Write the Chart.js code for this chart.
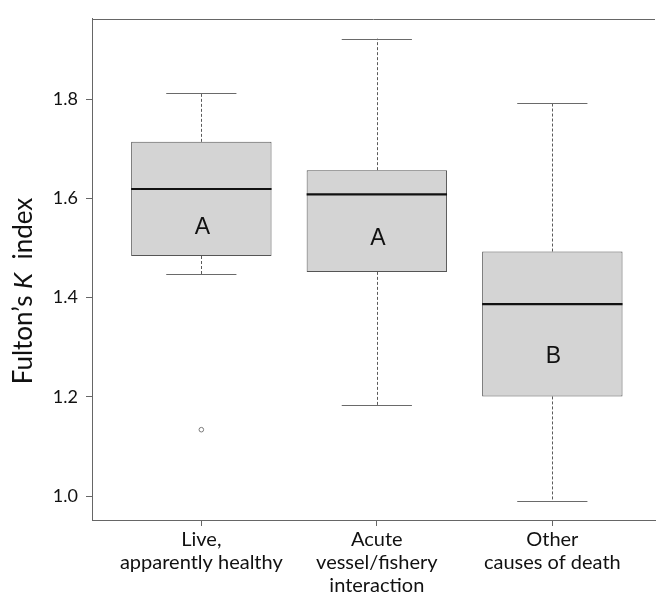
<!DOCTYPE html>
<html>
<head>
<meta charset="utf-8">
<script src="https://cdn.jsdelivr.net/npm/chart.js@4"></script>
<style>
  html, body { margin: 0; padding: 0; background: #fff; overflow: hidden; }
  #wrap { width: 660px; height: 595px; position: relative; }
</style>
</head>
<body>
<div id="wrap"><canvas id="c"></canvas></div>
<script>
// Fulton's condition index by stranding category (box-and-whisker summary)
const groups = [
  ["Live,", "apparently healthy"],
  ["Acute", "vessel/fishery", "interaction"],
  ["Other", "causes of death"]
];
const lowerWhisker = [1.447, 1.183, 0.990];
const q1           = [1.484, 1.452, 1.201];
const median       = [1.619, 1.608, 1.387];
const q3           = [1.714, 1.657, 1.493];
const upperWhisker = [1.812, 1.922, 1.793];
const outlierGroup = [1];
const outlierValue = [1.134];
const groupLetters = ["A", "A", "B"];
const yTicks = [1.0, 1.2, 1.4, 1.6, 1.8];

const AXIS_GREY = '#666666';
const BOX_EDGE = '#555555';

// whiskers, caps, medians and the group letters, placed through the chart scales
const boxExtras = {
  id: 'boxExtras',
  afterDatasetsDraw(chart) {
    const { ctx, scales: { x, y } } = chart;
    ctx.save();
    groups.forEach((g, i) => {
      const pos = i + 1;
      const cx = x.getPixelForValue(pos);
      const capL = x.getPixelForValue(pos - 0.2);
      const capR = x.getPixelForValue(pos + 0.2);
      const boxL = x.getPixelForValue(pos - 0.4);
      const boxR = x.getPixelForValue(pos + 0.4);
      const px = Math.round(cx) + 0.5;

      // dashed whisker stems
      ctx.strokeStyle = '#5a5a5a';
      ctx.lineWidth = 1;
      ctx.setLineDash([3, 2]);
      ctx.beginPath();
      ctx.moveTo(px, y.getPixelForValue(q3[i]));
      ctx.lineTo(px, y.getPixelForValue(upperWhisker[i]));
      ctx.moveTo(px, y.getPixelForValue(q1[i]));
      ctx.lineTo(px, y.getPixelForValue(lowerWhisker[i]));
      ctx.stroke();

      // whisker caps
      ctx.setLineDash([]);
      ctx.strokeStyle = '#6a6a6a';
      ctx.beginPath();
      const yu = Math.round(y.getPixelForValue(upperWhisker[i])) + 0.5;
      const yl = Math.round(y.getPixelForValue(lowerWhisker[i])) + 0.5;
      ctx.moveTo(capL, yu); ctx.lineTo(capR, yu);
      ctx.moveTo(capL, yl); ctx.lineTo(capR, yl);
      ctx.stroke();

      // median
      ctx.strokeStyle = '#111111';
      ctx.lineWidth = 2.2;
      ctx.beginPath();
      const ym = y.getPixelForValue(median[i]);
      ctx.moveTo(boxL, ym); ctx.lineTo(boxR, ym);
      ctx.stroke();

      // group letter in the lower half of the box
      ctx.fillStyle = '#111111';
      ctx.font = '23px "Liberation Sans", Arial, sans-serif';
      ctx.textAlign = 'center';
      ctx.textBaseline = 'middle';
      ctx.fillText(groupLetters[i], cx + 1, y.getPixelForValue(q1[i] + 0.43 * (median[i] - q1[i])));
    });

    // top frame line
    const area = chart.chartArea;
    ctx.strokeStyle = AXIS_GREY;
    ctx.lineWidth = 1;
    ctx.beginPath();
    ctx.moveTo(area.left, Math.round(area.top) + 0.5);
    ctx.lineTo(area.right, Math.round(area.top) + 0.5);
    ctx.stroke();
    ctx.restore();
  },
  afterDraw(chart) {
    // y-axis title with an italic K
    const { ctx } = chart;
    const parts = [
      { t: 'Fulton\u2019s ', f: '26px Lato' },
      { t: 'K', f: 'italic 26px Lato' },
      { t: '  index', f: '26px Lato' }
    ];
    ctx.save();
    let total = 0;
    parts.forEach(p => { ctx.font = p.f; p.w = ctx.measureText(p.t).width; total += p.w; });
    ctx.translate(32, 291);
    ctx.rotate(-Math.PI / 2);
    ctx.fillStyle = '#111111';
    ctx.textBaseline = 'alphabetic';
    ctx.textAlign = 'left';
    let xx = -total / 2;
    parts.forEach(p => { ctx.font = p.f; ctx.fillText(p.t, xx, 0); xx += p.w; });
    ctx.restore();
  }
};

new Chart(document.getElementById('c'), {
  type: 'bar',
  data: {
    datasets: [
      {
        type: 'bar',
        data: groups.map((g, i) => ({ x: i + 1, y: [q1[i], q3[i]] })),
        backgroundColor: '#d4d4d4',
        borderColor: BOX_EDGE,
        borderWidth: 1,
        borderSkipped: false,
        categoryPercentage: 1.0,
        barPercentage: 0.8
      },
      {
        type: 'scatter',
        data: outlierGroup.map((g, i) => ({ x: g, y: outlierValue[i] })),
        pointRadius: 2.3,
        pointBorderWidth: 1,
        borderColor: '#7a7a7a',
        backgroundColor: 'rgba(0,0,0,0)'
      }
    ]
  },
  options: {
    responsive: true,
    maintainAspectRatio: false,
    animation: false,
    devicePixelRatio: 1,
    layout: { padding: { top: 10, right: 0, left: 0, bottom: 0 } },
    plugins: { legend: { display: false }, tooltip: { enabled: false } },
    scales: {
      x: {
        type: 'linear',
        offset: false,
        min: 0.377,
        max: 3.585,
        afterBuildTicks: s => { s.ticks = groups.map((g, i) => ({ value: i + 1 })); },
        afterFit: s => { s.height = 75; },
        grid: { offset: false, drawOnChartArea: false, tickLength: 6, color: AXIS_GREY, tickColor: AXIS_GREY },
        border: { color: AXIS_GREY, width: 1 },
        ticks: {
          padding: 2,
          color: '#111111',
          font: { family: 'Lato', size: 20, lineHeight: 1.15 },
          maxRotation: 0,
          autoSkip: false,
          callback: v => groups[Math.round(v) - 1]
        }
      },
      y: {
        type: 'linear',
        min: 0.952,
        max: 1.962,
        afterBuildTicks: s => { s.ticks = yTicks.map(v => ({ value: v })); },
        afterFit: s => { s.width = 92; },
        grid: { drawOnChartArea: false, tickLength: 6, color: AXIS_GREY, tickColor: AXIS_GREY },
        border: { color: AXIS_GREY, width: 1 },
        ticks: {
          padding: 8,
          color: '#111111',
          font: { family: 'Lato', size: 18 },
          callback: v => Number(v).toFixed(1)
        }
      }
    }
  },
  plugins: [boxExtras]
});
</script>
</body>
</html>
